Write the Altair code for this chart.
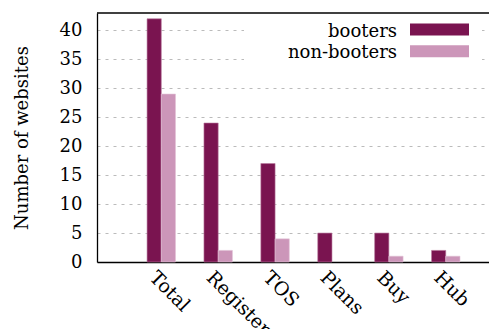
import altair as alt
import pandas as pd

categories = ["Total", "Register", "TOS", "Plans", "Buy", "Hub"]
booters = [42, 24, 17, 5, 5, 2]
non_booters = [29, 2, 4, 0, 1, 1]
series_names = ["booters", "non-booters"]
series_colors = ["#7A1450", "#CC96B9"]
y_ticks = [0, 5, 10, 15, 20, 25, 30, 35, 40]

FONT = "DejaVu Serif"
FS = 18
W, H = 392, 249
BAR = 0.25

rows = []
for i, cat in enumerate(categories):
    rows.append({"idx": i, "category": cat, "series": series_names[0], "value": booters[i]})
    rows.append({"idx": i, "category": cat, "series": series_names[1], "value": non_booters[i]})
df = pd.DataFrame(rows)
one = pd.DataFrame({"k": [0]})

label_expr = "[" + ",".join(f"'{c}'" for c in categories) + "][datum.value]"

x_scale = alt.Scale(domain=[-1.13, 5.76], nice=False, zero=False)
y_scale = alt.Scale(domain=[0, 43], nice=False)

bars = (
    alt.Chart(df)
    .transform_filter("datum.value > 0")
    .transform_calculate(
        x0=f"datum.idx + (datum.series == '{series_names[0]}' ? -{BAR} : 0)",
        x1=f"datum.idx + (datum.series == '{series_names[0]}' ? 0 : {BAR})",
    )
    .mark_bar(strokeWidth=0.6)
    .encode(
        x=alt.X(
            "x0:Q",
            scale=x_scale,
            axis=alt.Axis(
                values=list(range(len(categories))),
                labelExpr=label_expr,
                labelAngle=45,
                labelAlign="left",
                labelBaseline="middle",
                labelFont=FONT,
                labelFontSize=19,
                labelColor="black",
                labelPadding=12,
                labelOffset=-9,
                labelOverlap=False,
                labelBound=False,
                ticks=False,
                grid=False,
                domainColor="black",
                domainWidth=1.3,
                title=None,
            ),
        ),
        x2="x1:Q",
        y=alt.Y(
            "value:Q",
            scale=y_scale,
            axis=alt.Axis(
                values=y_ticks,
                labelFont=FONT,
                labelFontSize=FS,
                labelColor="black",
                labelPadding=15,
                labelOverlap=False,
                ticks=False,
                grid=True,
                gridDash=[3, 5],
                gridColor="#bbbbbb",
                gridWidth=1,
                domainColor="black",
                domainWidth=1.3,
                title="Number of websites",
                titleFont=FONT,
                titleFontSize=FS,
                titleFontWeight="normal",
                titleColor="black",
                titlePadding=28,
            ),
        ),
        y2=alt.datum(0),
        color=alt.Color(
            "series:N",
            scale=alt.Scale(domain=series_names, range=series_colors),
            legend=None,
        ),
        stroke=alt.Stroke(
            "series:N",
            scale=alt.Scale(domain=series_names, range=["#B97A9E", "#E2C2D6"]),
            legend=None,
        ),
    )
)

# top border of the plot frame
top_line = alt.Chart(one).mark_rule(color="black", strokeWidth=1.3).encode(
    x=alt.value(0), x2=alt.value(W), y=alt.value(0)
)

# key: white backing box, labels right-aligned with swatches to their right
key_bg = alt.Chart(one).mark_rect(color="white").encode(
    x=alt.value(147), x2=alt.value(385), y=alt.value(2), y2=alt.value(52)
)
key_layers = [key_bg]
for k, (name, col) in enumerate(zip(series_names, series_colors)):
    y0 = 10.5 + 21.7 * k
    key_layers.append(
        alt.Chart(one).mark_rect(color=col).encode(
            x=alt.value(313), x2=alt.value(372), y=alt.value(y0), y2=alt.value(y0 + 12)
        )
    )
    key_layers.append(
        alt.Chart(one).mark_text(
            text=name, font=FONT, fontSize=FS, fontWeight="normal",
            align="right", baseline="alphabetic", color="black"
        ).encode(x=alt.value(300), y=alt.value(y0 + 13))
    )

chart = (
    alt.layer(bars, top_line, *key_layers)
    .properties(
        width=W,
        height=H,
        autosize=alt.AutoSizeParams(type="none"),
        padding={"left": 97, "top": 13, "right": 0, "bottom": 67},
        background="white",
    )
    .configure_view(stroke=None)
)

chart.save("out.html", embed_options={"renderer": "svg", "actions": False})
